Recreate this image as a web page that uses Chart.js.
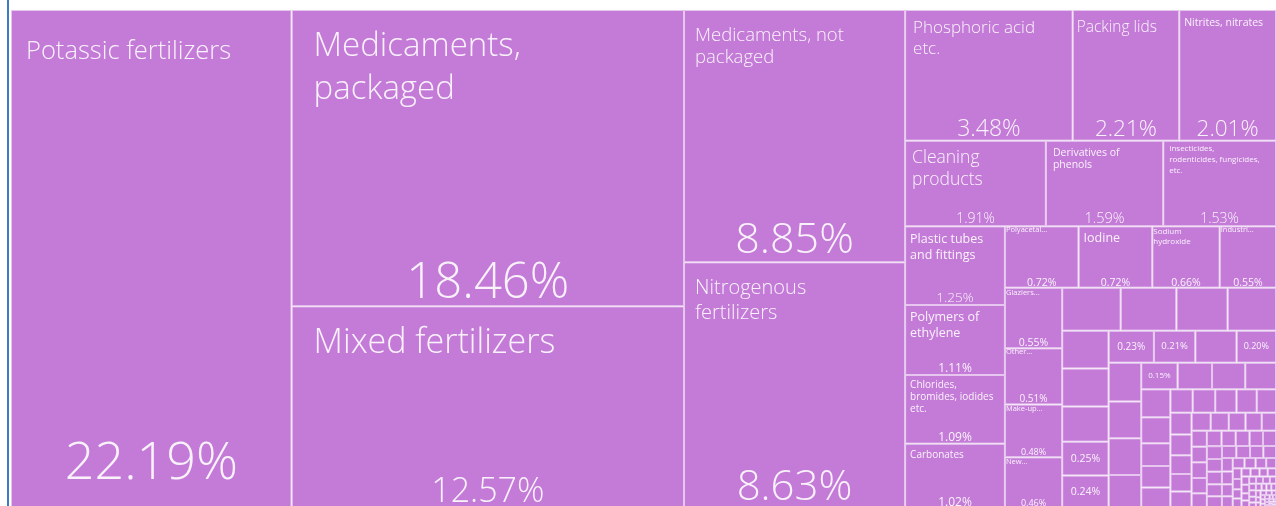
<!DOCTYPE html>
<html>
<head>
<meta charset="utf-8">
<script src="https://cdn.jsdelivr.net/npm/chart.js@4.4.1/dist/chart.umd.min.js"></script>
<style>
html,body{margin:0;padding:0;background:#fff;overflow:hidden;width:1276px;height:506px;}
#wrap{position:absolute;left:0;top:0;width:1276px;height:518px;}
#edge{position:absolute;left:7px;top:0;width:2px;height:506px;background:#3b7cc3;}
</style>
</head>
<body>
<div id="wrap"><canvas id="c"></canvas></div>
<div id="edge"></div>
<script>
// ---- data ----
const categories = [
  'Potassic fertilizers',
  'Medicaments,\npackaged',
  'Mixed fertilizers',
  'Medicaments, not\npackaged',
  'Nitrogenous\nfertilizers',
  'Phosphoric acid\netc.',
  'Packing lids',
  'Nitrites, nitrates',
  'Cleaning\nproducts',
  'Derivatives of\nphenols',
  'Insecticides,\nrodenticides, fungicides,\netc.',
  'Plastic tubes\nand fittings',
  'Polymers of\nethylene',
  'Chlorides,\nbromides, iodides\netc.',
  'Carbonates',
  'Polyacetal...',
  'Iodine',
  'Sodium\nhydroxide',
  'Industri...',
  'Glaziers...',
  'Other...',
  'Make-up...',
  'New...'
];
const shares = [
  22.19, 18.46, 12.57, 8.85, 8.63, 3.48, 2.21, 2.01, 1.91, 1.59, 1.53,
  1.25, 1.11, 1.09, 1.02, 0.72, 0.72, 0.66, 0.55, 0.55, 0.51, 0.48, 0.46,
  0.40, 0.38, 0.35, 0.33, 0.28, 0.28, 0.26, 0.25, 0.24,
  0.23, 0.21, 0.21, 0.20, 0.20, 0.19, 0.19, 0.17,
  0.154, 0.145, 0.14, 0.13, 0.13, 0.12, 0.105, 0.10, 0.095,
  0.084, 0.084, 0.08, 0.076, 0.072,
  0.073, 0.070, 0.063, 0.059, 0.056,
  0.054, 0.051, 0.047, 0.046, 0.040,
  0.039, 0.038, 0.038, 0.037, 0.036, 0.036, 0.035, 0.034, 0.033, 0.032,
  0.031, 0.030, 0.030, 0.029, 0.028, 0.027, 0.026, 0.025, 0.024, 0.023,
  0.022, 0.021, 0.020, 0.019, 0.018, 0.017, 0.016, 0.015, 0.014, 0.013,
  0.013, 0.012, 0.012, 0.011, 0.011, 0.010, 0.010, 0.009, 0.009, 0.008,
  0.008, 0.008, 0.007, 0.007, 0.007, 0.006, 0.006, 0.006, 0.005, 0.005,
  0.005, 0.005, 0.004, 0.004, 0.004, 0.004, 0.003, 0.003, 0.003, 0.003,
  0.003, 0.002, 0.002, 0.002, 0.002, 0.002, 0.002, 0.001, 0.001, 0.001,
  0.001, 0.001, 0.001, 0.001, 0.001
];
// unnamed cells whose share is printed
const unnamedShareShown = [30, 31, 32, 33, 35, 40];
// strip structure of the treemap (items per strip, V = column, H = row)
const stripSizes = [1, 2, 2, 3, 3, 4, 4, 4, 4, 5, 4, 4, 4, 5, 5];
const stripDirs = 'VVVHHVHVHVHVHVH';

// ---- styles ----
const cellColor = '#c47bd8';
const lineColor = '#e6c6ee';
const textColor = 'rgba(255,255,255,0.9)';
// ns name size, nt first-line center from top, lh line height, pl left pad,
// ss share size, so share center offset from bottom (null = centered)
const textStyles = {
  0:{ns:25.5,nt:42,lh:32,pl:15,ss:52,so:44},
  1:{ns:33,nt:37,lh:43,pl:22,ss:49,so:22},
  2:{ns:34,nt:37,lh:42,pl:22,ss:34,so:16},
  3:{ns:18.5,nt:26,lh:22,pl:11,ss:43,so:21},
  4:{ns:20,nt:26,lh:25,pl:11,ss:42,so:20},
  5:{ns:17,nt:18,lh:21,pl:8,ss:23,so:11},
  6:{ns:15.5,nt:18,lh:18,pl:4,ss:22.5,so:11},
  7:{ns:10.5,nt:13,lh:13,pl:5,ss:22.5,so:11},
  8:{ns:17.5,nt:17,lh:22,pl:7,ss:14,so:7},
  9:{ns:10.5,nt:12,lh:12,pl:7,ss:14.5,so:7},
  10:{ns:8,nt:8,lh:11,pl:6,ss:14,so:7},
  11:{ns:12.5,nt:13,lh:16,pl:5,ss:13.5,so:7},
  12:{ns:12.5,nt:12,lh:16,pl:5,ss:12,so:6},
  13:{ns:10,nt:10,lh:12,pl:5,ss:12,so:6},
  14:{ns:10,nt:11,lh:12,pl:5,ss:12,so:5},
  15:{ns:7.5,nt:4,lh:9,pl:1,ss:10.5,so:5},
  16:{ns:12.5,nt:12,lh:15,pl:5,ss:10.5,so:5},
  17:{ns:8,nt:6,lh:10,pl:1,ss:10.5,so:5},
  18:{ns:7.5,nt:4,lh:9,pl:1,ss:10.5,so:5},
  19:{ns:7.5,nt:5,lh:9,pl:1,ss:10.5,so:5},
  20:{ns:7.5,nt:4,lh:9,pl:1,ss:10,so:5},
  21:{ns:7.5,nt:4,lh:9,pl:1,ss:9,so:5},
  22:{ns:7.5,nt:5,lh:9,pl:1,ss:9,so:5},
  30:{ss:10.5,so:null}, 31:{ss:10.5,so:null}, 32:{ss:10,so:null},
  33:{ss:9.5,so:null}, 35:{ss:9,so:null}, 40:{ss:8,so:null}
};
function fontSpec(size){
  const w = size >= 13 ? 300 : 400;
  return w + ' ' + size + 'px "Open Sans", "Noto Sans", sans-serif';
}

// ---- layout in data units ----
function placeGroup(rects, values, i, n, sum, remaining, box, dir){
  if (dir === 'V') {
    const xm = box.x0 + (box.x1 - box.x0) * sum / remaining;
    let yy = box.y0;
    for (let k = 0; k < n; k++) {
      const h = (box.y1 - box.y0) * values[i + k] / sum;
      rects[i + k] = {x0: box.x0, x1: xm, y0: yy, y1: yy + h};
      yy += h;
    }
    box.x0 = xm;
  } else {
    const ym = box.y0 + (box.y1 - box.y0) * sum / remaining;
    let xx = box.x0;
    for (let k = 0; k < n; k++) {
      const w = (box.x1 - box.x0) * values[i + k] / sum;
      rects[i + k] = {x0: xx, x1: xx + w, y0: box.y0, y1: ym};
      xx += w;
    }
    box.y0 = ym;
  }
}
function layoutCells(values, x0, x1, y0, y1, sx, sy){
  const rects = new Array(values.length);
  const box = {x0, x1, y0, y1};
  let remaining = values.reduce((a, b) => a + b, 0);
  let i = 0;
  for (let s = 0; s < stripSizes.length && i < values.length; s++) {
    const n = Math.min(stripSizes[s], values.length - i);
    let sum = 0;
    for (let k = 0; k < n; k++) sum += values[i + k];
    placeGroup(rects, values, i, n, sum, remaining, box, stripDirs[s]);
    remaining -= sum; i += n;
  }
  while (i < values.length) {
    const dx = (box.x1 - box.x0) * sx, dy = (box.y1 - box.y0) * sy;
    let sum = values[i], minV = sum, maxV = sum;
    const alpha = Math.max(dy / dx, dx / dy) / remaining;
    let beta = sum * sum * alpha;
    let minRatio = Math.max(maxV / beta, beta / minV);
    let j = i + 1;
    for (; j < values.length; j++) {
      const v = values[j];
      const ns = sum + v, nmin = Math.min(minV, v), nmax = Math.max(maxV, v);
      beta = ns * ns * alpha;
      const r = Math.max(nmax / beta, beta / nmin);
      if (r > minRatio) break;
      sum = ns; minV = nmin; maxV = nmax; minRatio = r;
    }
    placeGroup(rects, values, i, j - i, sum, remaining, box, dx < dy ? 'H' : 'V');
    remaining -= sum; i = j;
  }
  return rects;
}

// ---- custom Chart.js controller ----
class TreemapLiteController extends Chart.DatasetController {
  parse(start, count) {
    const meta = this._cachedMeta, data = this.getDataset().data;
    for (let i = start; i < start + count; i++) meta._parsed[i] = {v: +data[i]};
  }
  update(mode) {
    const meta = this._cachedMeta;
    this.updateElements(meta.data, 0, meta.data.length, mode);
  }
  updateElements(elements, start, count, mode) {
    const meta = this._cachedMeta;
    const xs = meta.xScale, ys = meta.yScale;
    if (!xs || !ys || !isFinite(xs.getPixelForValue(xs.min))) return;
    const values = this.getDataset().data.map(Number);
    const sx = Math.abs(xs.getPixelForValue(xs.max) - xs.getPixelForValue(xs.min)) / (xs.max - xs.min);
    const sy = Math.abs(ys.getPixelForValue(ys.max) - ys.getPixelForValue(ys.min)) / (ys.max - ys.min);
    const rects = layoutCells(values, xs.min, xs.max, ys.min, ys.max, sx, sy);
    for (let i = start; i < start + count; i++) {
      const r = rects[i];
      const l = xs.getPixelForValue(r.x0), rr = xs.getPixelForValue(r.x1);
      const a = ys.getPixelForValue(r.y0), b = ys.getPixelForValue(r.y1);
      const top = Math.min(a, b), bottom = Math.max(a, b);
      const props = {
        x: (l + rr) / 2, y: top, base: bottom, width: rr - l, height: bottom - top,
        horizontal: false,
        borderSkipped: {top: false, left: false, bottom: false, right: false},
        enableBorderRadius: true, inflateAmount: 0,
        options: this.resolveDataElementOptions(i, mode)
      };
      this.updateElement(elements[i], i, props, mode);
    }
  }
  draw() {
    super.draw();
    const ctx = this._ctx;
    const els = this._cachedMeta.data;
    const data = this.getDataset().data;
    ctx.save();
    ctx.fillStyle = textColor;
    els.forEach((el, i) => {
      const st = textStyles[i];
      if (!st) return;
      if (i >= categories.length && unnamedShareShown.indexOf(i) < 0) return;
      const {x, y, base, width} = el.getProps(['x', 'y', 'base', 'width'], true);
      const left = x - width / 2, top = y, bottom = base;
      ctx.save();
      ctx.beginPath(); ctx.rect(left, top, width, bottom - top); ctx.clip();
      ctx.textBaseline = 'middle';
      const name = categories[i];
      if (name && st.ns) {
        ctx.font = fontSpec(st.ns);
        ctx.textAlign = 'left';
        name.split('\n').forEach((line, k) => ctx.fillText(line, left + st.pl, top + st.nt + k * st.lh));
      }
      if (st.ss) {
        ctx.font = fontSpec(st.ss);
        ctx.textAlign = 'center';
        const ty = st.so == null ? (top + bottom) / 2 : bottom - st.so;
        ctx.fillText((+data[i]).toFixed(2) + '%', x, ty);
      }
      ctx.restore();
    });
    ctx.restore();
  }
}
TreemapLiteController.id = 'treemapLite';
TreemapLiteController.defaults = {datasetElementType: false, dataElementType: 'bar'};
TreemapLiteController.overrides = {scales: {x: {type: 'linear'}, y: {type: 'linear'}}};
Chart.register(TreemapLiteController);

new Chart(document.getElementById('c'), {
  type: 'treemapLite',
  data: {
    datasets: [{
      data: shares,
      backgroundColor: cellColor,
      borderColor: lineColor,
      borderWidth: 1,
      borderRadius: 0,
      inflateAmount: 0
    }]
  },
  options: {
    responsive: true,
    maintainAspectRatio: false,
    animation: false,
    events: [],
    layout: {padding: {left: 11, top: 10, right: 0, bottom: 10}},
    scales: {
      x: {type: 'linear', min: 0, max: 100, display: false},
      y: {type: 'linear', min: 0, max: 100, reverse: true, display: false}
    },
    plugins: {legend: {display: false}, tooltip: {enabled: false}}
  }
});
</script>
</body>
</html>
